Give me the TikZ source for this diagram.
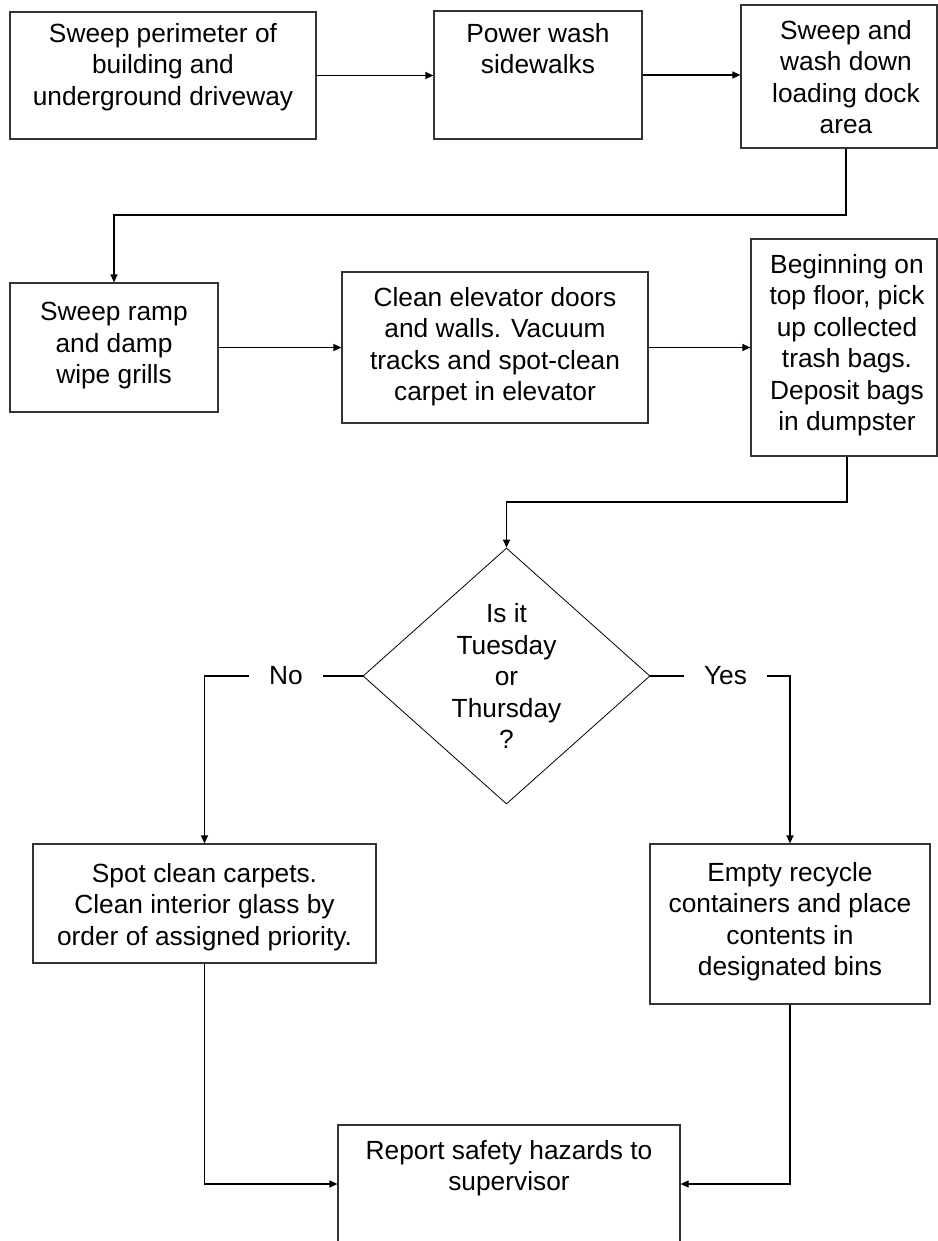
\documentclass[tikz,border=0pt]{standalone}
\usepackage{fontspec}
\setmainfont{Liberation Sans}
\usetikzlibrary{shapes.geometric,arrows.meta}
\newcommand\flowfont{\fontsize{26.4}{31.6}\selectfont}
\tikzset{
  box/.style={draw=black!80, line width=1.2bp, inner sep=0pt},
  txt/.style={anchor=north, inner sep=0pt, align=center, font=\flowfont},
  dec/.style={diamond, draw, line width=0.8bp, inner sep=0pt, aspect=1.12,
    minimum width=287bp, minimum height=256bp, align=center, font=\flowfont},
  yesno/.style={inner xsep=20bp, inner ysep=2bp, font=\flowfont},
  arr/.style={line width=1.2bp, -{Triangle[length=8bp,width=7bp]}},
  lin/.style={line width=1.2bp}
}
\begin{document}
\begin{tikzpicture}[x=1bp,y=-1bp]
  % 定义画布
  \useasboundingbox (0,0) rectangle (938,1241);
  \clip (0,0) rectangle (938,1241);
  % 第一行方框
  \node[box, minimum width=306bp, minimum height=127bp] (b1) at (163,75.5) {};
  \node[box, minimum width=208bp, minimum height=128bp] (b2) at (538,75) {};
  \node[box, minimum width=196bp, minimum height=143bp] (b3) at (839,76.5) {};
  \node[txt] (t1) at (163,23) {Sweep perimeter of\\building and\\underground driveway};
  \node[txt] (t2) at (538,23) {Power wash\\sidewalks};
  \node[txt] (t3) at (846,20) {Sweep and\\wash down\\loading dock\\area};
  % 第二行方框
  \node[box, minimum width=208bp, minimum height=129bp] (b4) at (114,347.5) {};
  \node[box, minimum width=306bp, minimum height=151bp] (b5) at (495,347.5) {};
  \node[box, minimum width=186bp, minimum height=217bp] (b6) at (844,347.5) {};
  \node[txt] (t4) at (114,302) {Sweep ramp\\and damp\\wipe grills};
  \node[txt] (t5) at (495,287) {Clean elevator doors\\and walls. Vacuum\\tracks and spot-clean\\carpet in elevator};
  \node[txt] (t6) at (847,254) {Beginning on\\top floor, pick\\up collected\\trash bags.\\Deposit bags\\in dumpster};
  % 判断框
  \node[dec] (dec) at (506.5,676) {Is it\\Tuesday\\or\\Thursday\\?};
  \node[yesno] (no) at (286,676) {No};
  \node[yesno] (yes) at (725.5,676) {Yes};
  % 分支方框
  \node[box, minimum width=343bp, minimum height=119bp] (b7) at (204.5,903.5) {};
  \node[box, minimum width=280bp, minimum height=160bp] (b8) at (790,924) {};
  \node[box, minimum width=342bp, minimum height=118bp] (b10) at (509,1184) {};
  \node[txt] (t7) at (204.5,863) {Spot clean carpets.\\Clean interior glass by\\order of assigned priority.};
  \node[txt] (t8) at (790,862) {Empty recycle\\containers and place\\contents in\\designated bins};
  \node[txt] (t10) at (509,1140) {Report safety hazards to\\supervisor};
  % 连线
  \coordinate (k1) at (846,215);
  \coordinate (k2) at (847,502);
  \draw[arr] (b1.east) -- (b2.west |- b1.east);
  \draw[arr] (b2.east) -- (b3.west |- b2.east);
  \draw[arr] (b3.south -| k1) -- (k1) -| (b4.north);
  \draw[arr] (b4.east) -- (b5.west |- b4.east);
  \draw[arr] (b5.east) -- (b6.west |- b5.east);
  \draw[arr] (b6.south -| k2) -- (k2) -| (dec.north);
  \draw[lin] (dec.west) -- (no);
  \draw[arr] (no) -| (b7.north);
  \draw[lin] (dec.east) -- (yes);
  \draw[arr] (yes) -| (b8.north);
  \draw[arr] (b7.south) |- (b10.west);
  \draw[arr] (b8.south) |- (b10.east);
\end{tikzpicture}
\end{document}
